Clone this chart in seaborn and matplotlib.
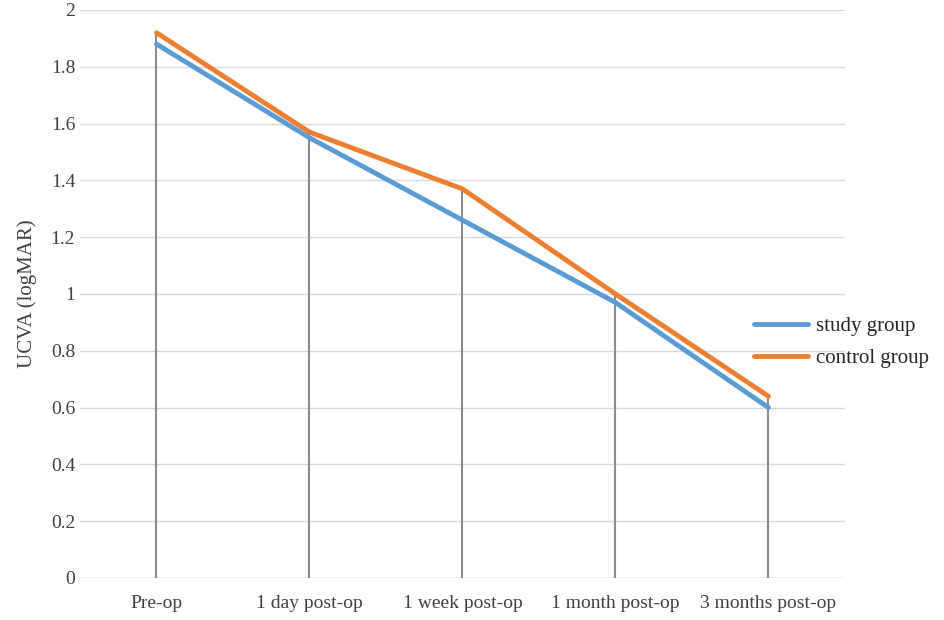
import matplotlib
matplotlib.use("Agg")
import matplotlib.pyplot as plt
import seaborn as sns
import pandas as pd

# Data
timepoints = ['Pre-op', '1 day post-op', '1 week post-op', '1 month post-op', '3 months post-op']
study_group = [1.88, 1.55, 1.26, 0.97, 0.60]
control_group = [1.92, 1.57, 1.37, 1.00, 0.64]

df = pd.DataFrame({'time': list(range(len(timepoints))) * 2,
                   'UCVA': study_group + control_group,
                   'group': ['study group'] * 5 + ['control group'] * 5})

sns.set_style('white')
plt.rcParams['font.family'] = ['Liberation Serif', 'DejaVu Serif']

fig = plt.figure(figsize=(9.45, 6.2), dpi=100)
ax = fig.add_axes([80 / 945, 42 / 620, 765 / 945, 568 / 620])

# drop lines from the highest point down to zero
for i in range(len(timepoints)):
    ax.vlines(i, 0, max(study_group[i], control_group[i]), color='#8c8c8c', lw=1.5, zorder=1)

sns.lineplot(data=df, x='time', y='UCVA', hue='group',
             palette={'study group': '#5b9bd5', 'control group': '#ed7d31'},
             linewidth=3.5, ax=ax, zorder=3)

ax.set_xlim(-0.5, 4.5)
ax.set_ylim(0, 2)
ax.set_yticks([i / 5 for i in range(11)])
ax.set_yticklabels(['0', '0.2', '0.4', '0.6', '0.8', '1', '1.2', '1.4', '1.6', '1.8', '2'])
ax.set_xticks(range(len(timepoints)))
ax.set_xticklabels(timepoints)
ax.tick_params(axis='both', labelsize=14, colors='#404040', length=0)
ax.tick_params(axis='x', pad=12)
ax.yaxis.grid(True, color='#d9d9d9', lw=1)
ax.set_axisbelow(True)
for s in ax.spines.values():
    s.set_visible(False)
ax.axhline(0, color='#d9d9d9', lw=1, zorder=0)
ax.set_xlabel('')
ax.set_ylabel('UCVA (logMAR)', fontsize=15, color='#404040', labelpad=10)

leg = ax.legend(loc='center left', bbox_to_anchor=(0.87, 0.415), frameon=False,
                fontsize=15, handlelength=2.6, handletextpad=0.4, labelspacing=0.6,
                borderaxespad=0)
for t in leg.get_texts():
    t.set_color('#262626')

fig.savefig('out.png', dpi=100)
